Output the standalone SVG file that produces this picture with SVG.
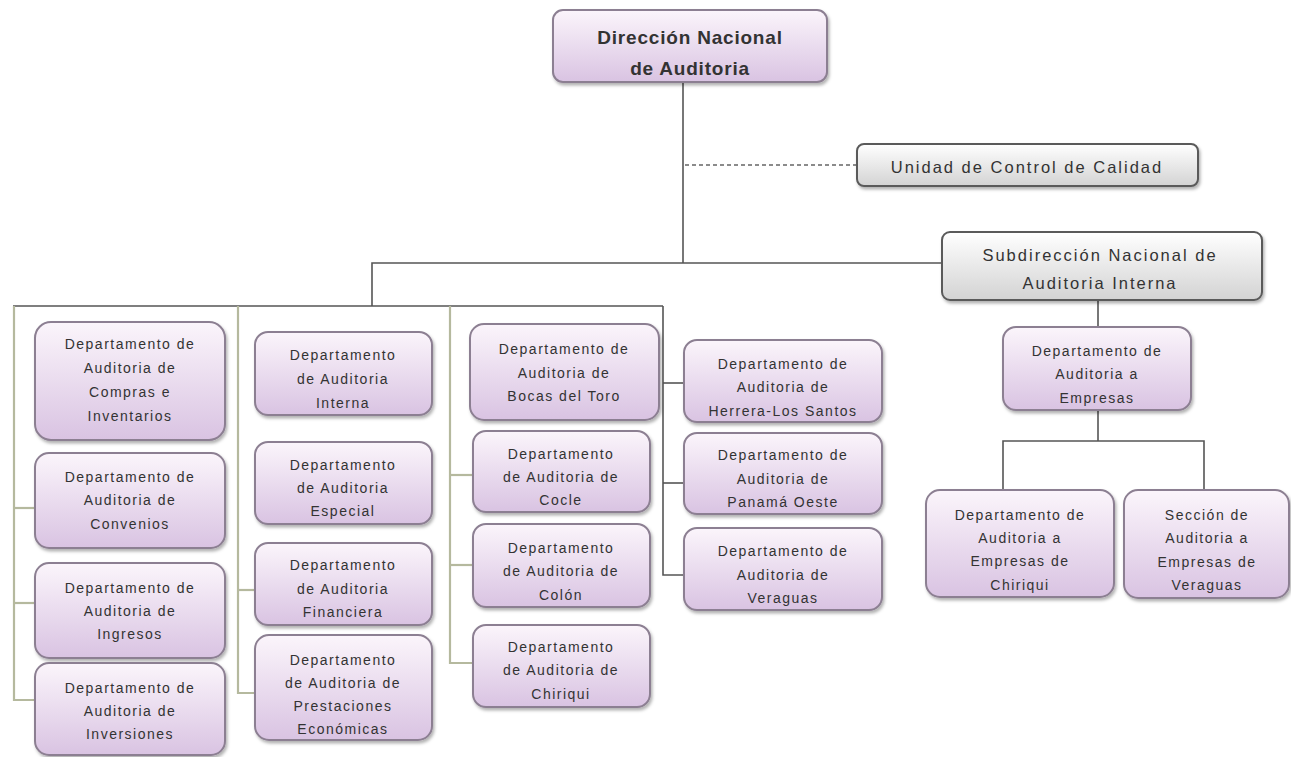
<svg xmlns="http://www.w3.org/2000/svg" width="1291" height="757" viewBox="0 0 1291 757">
<defs>
<linearGradient id="gp" x1="0" y1="0" x2="0" y2="1">
<stop offset="0" stop-color="#fbf5fb"/>
<stop offset="1" stop-color="#d9c3e2"/>
</linearGradient>
<linearGradient id="gg" x1="0" y1="0" x2="0" y2="1">
<stop offset="0" stop-color="#ffffff"/>
<stop offset="1" stop-color="#d3d3d3"/>
</linearGradient>
<filter id="sh" x="-10%" y="-10%" width="125%" height="130%">
<feDropShadow dx="1.5" dy="2.5" stdDeviation="1.5" flood-color="#000" flood-opacity="0.3"/>
</filter>
</defs>
<style>
.p{fill:url(#gp);stroke:#8c7f92;stroke-width:2;filter:url(#sh)}
.g{fill:url(#gg);stroke:#5a5a5a;stroke-width:2;filter:url(#sh)}
text{font-family:"Liberation Sans",Arial,sans-serif;fill:#333;text-anchor:middle}
.s{font-size:14px;letter-spacing:1.5px}
.m{font-size:16.5px;letter-spacing:2px}
.b{font-size:19px;font-weight:bold;letter-spacing:0.8px;fill:#333}
.k{fill:none;stroke:#555;stroke-width:1.6}
.o{fill:none;stroke:#b5b99e;stroke-width:2.2}
.d{fill:none;stroke:#666;stroke-width:1.6;stroke-dasharray:4 3}
</style>
<rect width="1291" height="757" fill="#fff"/>
<g id="connectors">
<line class="k" x1="683" y1="83" x2="683" y2="263"/>
<line class="d" x1="685" y1="165" x2="857" y2="165"/>
<polyline class="k" points="372,306 372,263 942,263"/>
<line class="k" x1="13" y1="306" x2="663" y2="306" stroke="#888"/>
<polyline class="o" points="14,306 14,700 35,700"/>
<line class="o" x1="14" y1="508" x2="35" y2="508"/>
<line class="o" x1="14" y1="603" x2="35" y2="603"/>
<polyline class="o" points="238,306 238,693 255,693"/>
<line class="o" x1="238" y1="590" x2="255" y2="590"/>
<polyline class="o" points="450,306 450,663 473,663"/>
<line class="o" x1="450" y1="475" x2="473" y2="475"/>
<line class="o" x1="450" y1="565" x2="473" y2="565"/>
<polyline class="k" points="663,306 663,575 684,575"/>
<line class="k" x1="663" y1="383" x2="684" y2="383"/>
<line class="k" x1="663" y1="483" x2="684" y2="483"/>
<line class="k" x1="1098" y1="300" x2="1098" y2="327" stroke-width="2.5" stroke="#777"/>
<line class="k" x1="1098" y1="410" x2="1098" y2="441" stroke-width="2.5" stroke="#777"/>
<polyline class="k" points="1003,490 1003,441 1204,441 1204,490"/>
</g>
<g id="n-direccion">
<rect class="p" x="553" y="10" width="274" height="72" rx="10"/>
<text class="b" x="690" y="44">Dirección Nacional</text>
<text class="b" x="690" y="75">de Auditoria</text>
</g>
<g id="n-calidad">
<rect class="g" x="857" y="144" width="341" height="42" rx="7"/>
<text class="m" x="1027" y="173">Unidad de Control de Calidad</text>
</g>
<g id="n-subdireccion">
<rect class="g" x="942" y="232" width="320" height="68" rx="8"/>
<text class="m" x="1100" y="261">Subdirección Nacional de</text>
<text class="m" x="1100" y="289">Auditoria Interna</text>
</g>
<g id="n-compras">
<rect class="p" x="35" y="322" width="190" height="118" rx="16"/>
<text class="s" x="130" y="349">Departamento de</text>
<text class="s" x="130" y="373">Auditoria de</text>
<text class="s" x="130" y="397">Compras e</text>
<text class="s" x="130" y="421">Inventarios</text>
</g>
<g id="n-convenios">
<rect class="p" x="35" y="453" width="190" height="95" rx="14"/>
<text class="s" x="130" y="482">Departamento de</text>
<text class="s" x="130" y="505">Auditoria de</text>
<text class="s" x="130" y="529">Convenios</text>
</g>
<g id="n-ingresos">
<rect class="p" x="35" y="563" width="190" height="95" rx="14"/>
<text class="s" x="130" y="593">Departamento de</text>
<text class="s" x="130" y="616">Auditoria de</text>
<text class="s" x="130" y="639">Ingresos</text>
</g>
<g id="n-inversiones">
<rect class="p" x="35" y="663" width="190" height="92" rx="14"/>
<text class="s" x="130" y="693">Departamento de</text>
<text class="s" x="130" y="716">Auditoria de</text>
<text class="s" x="130" y="739">Inversiones</text>
</g>
<g id="n-interna">
<rect class="p" x="255" y="332" width="177" height="83" rx="13"/>
<text class="s" x="343" y="360">Departamento</text>
<text class="s" x="343" y="384">de Auditoria</text>
<text class="s" x="343" y="408">Interna</text>
</g>
<g id="n-especial">
<rect class="p" x="255" y="442" width="177" height="82" rx="13"/>
<text class="s" x="343" y="470">Departamento</text>
<text class="s" x="343" y="493">de Auditoria</text>
<text class="s" x="343" y="516">Especial</text>
</g>
<g id="n-financiera">
<rect class="p" x="255" y="543" width="177" height="82" rx="13"/>
<text class="s" x="343" y="570">Departamento</text>
<text class="s" x="343" y="594">de Auditoria</text>
<text class="s" x="343" y="617">Financiera</text>
</g>
<g id="n-prestaciones">
<rect class="p" x="255" y="635" width="177" height="105" rx="14"/>
<text class="s" x="343" y="665">Departamento</text>
<text class="s" x="343" y="688">de Auditoria de</text>
<text class="s" x="343" y="711">Prestaciones</text>
<text class="s" x="343" y="734">Económicas</text>
</g>
<g id="n-bocas">
<rect class="p" x="470" y="324" width="189" height="96" rx="14"/>
<text class="s" x="564" y="354">Departamento de</text>
<text class="s" x="564" y="378">Auditoria de</text>
<text class="s" x="564" y="401">Bocas del Toro</text>
</g>
<g id="n-cocle">
<rect class="p" x="473" y="431" width="177" height="81" rx="13"/>
<text class="s" x="561" y="459">Departamento</text>
<text class="s" x="561" y="482">de Auditoria de</text>
<text class="s" x="561" y="505">Cocle</text>
</g>
<g id="n-colon">
<rect class="p" x="473" y="524" width="177" height="83" rx="13"/>
<text class="s" x="561" y="553">Departamento</text>
<text class="s" x="561" y="576">de Auditoria de</text>
<text class="s" x="561" y="600">Colón</text>
</g>
<g id="n-chiriqui">
<rect class="p" x="473" y="625" width="177" height="82" rx="13"/>
<text class="s" x="561" y="652">Departamento</text>
<text class="s" x="561" y="675">de Auditoria de</text>
<text class="s" x="561" y="699">Chiriqui</text>
</g>
<g id="n-herrera">
<rect class="p" x="684" y="340" width="198" height="82" rx="13"/>
<text class="s" x="783" y="369">Departamento de</text>
<text class="s" x="783" y="392">Auditoria de</text>
<text class="s" x="783" y="416">Herrera-Los Santos</text>
</g>
<g id="n-panama">
<rect class="p" x="684" y="433" width="198" height="81" rx="13"/>
<text class="s" x="783" y="460">Departamento de</text>
<text class="s" x="783" y="484">Auditoria de</text>
<text class="s" x="783" y="507">Panamá Oeste</text>
</g>
<g id="n-veraguas">
<rect class="p" x="684" y="528" width="198" height="82" rx="13"/>
<text class="s" x="783" y="556">Departamento de</text>
<text class="s" x="783" y="580">Auditoria de</text>
<text class="s" x="783" y="603">Veraguas</text>
</g>
<g id="n-empresas">
<rect class="p" x="1003" y="327" width="188" height="83" rx="13"/>
<text class="s" x="1097" y="356">Departamento de</text>
<text class="s" x="1097" y="379">Auditoria a</text>
<text class="s" x="1097" y="403">Empresas</text>
</g>
<g id="n-emp-chiriqui">
<rect class="p" x="926" y="490" width="188" height="107" rx="14"/>
<text class="s" x="1020" y="520">Departamento de</text>
<text class="s" x="1020" y="543">Auditoria a</text>
<text class="s" x="1020" y="566">Empresas de</text>
<text class="s" x="1020" y="590">Chiriqui</text>
</g>
<g id="n-emp-veraguas">
<rect class="p" x="1124" y="490" width="165" height="108" rx="14"/>
<text class="s" x="1207" y="520">Sección de</text>
<text class="s" x="1207" y="543">Auditoria a</text>
<text class="s" x="1207" y="567">Empresas de</text>
<text class="s" x="1207" y="590">Veraguas</text>
</g>
</svg>
